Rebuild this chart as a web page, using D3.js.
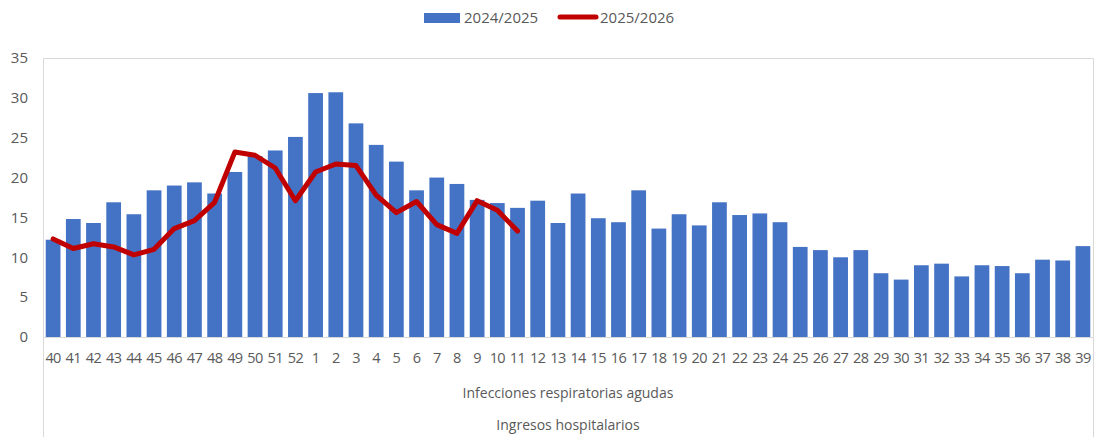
<!DOCTYPE html>
<html>
<head>
<meta charset="utf-8">
<script src="https://cdn.jsdelivr.net/npm/d3@7"></script>
<style>
  body { margin: 0; background: #fff; }
  text { font-family: "Open Sans", "Liberation Sans", sans-serif; fill: #595959; }
</style>
</head>
<body>
<svg width="1097" height="439"></svg>
<script>
// weeks 40..52, 1..39
var weeks = ["40","41","42","43","44","45","46","47","48","49","50","51","52",
  "1","2","3","4","5","6","7","8","9","10","11","12","13","14","15","16","17","18","19","20",
  "21","22","23","24","25","26","27","28","29","30","31","32","33","34","35","36","37","38","39"];

var season2425 = [12.2, 14.8, 14.3, 16.9, 15.4, 18.4, 19.0, 19.4, 18.0, 20.7, 22.7, 23.4, 25.1,
  30.6, 30.7, 26.8, 24.1, 22.0, 18.4, 20.0, 19.2, 17.2, 16.8, 16.2, 17.1, 14.3, 18.0, 14.9, 14.4, 18.4, 13.6, 15.4, 14.0,
  16.9, 15.3, 15.5, 14.4, 11.3, 10.9, 10.0, 10.9, 8.0, 7.2, 9.0, 9.2, 7.6, 9.0, 8.9, 8.0, 9.7, 9.6, 11.4];

var season2526 = [12.3, 11.1, 11.7, 11.3, 10.3, 11.0, 13.6, 14.6, 16.9, 23.2, 22.8, 21.2, 17.1,
  20.7, 21.7, 21.5, 17.8, 15.6, 17.0, 14.1, 13.0, 17.1, 15.9, 13.3];

var yTicks = [0, 5, 10, 15, 20, 25, 30, 35];
var legendLabels = ["2024/2025", "2025/2026"];
var groupLabels = ["Infecciones respiratorias agudas", "Ingresos hospitalarios"];

var svg = d3.select("svg");
var plotL = 43, plotR = 1093, plotT = 58, plotB = 337;

var x = d3.scaleBand()
    .domain(weeks)
    .range([plotL, plotR])
    .paddingInner(0.27)
    .paddingOuter(0.135);

var y = d3.scaleLinear()
    .domain([0, 35])
    .range([plotB, plotT]);

// plot frame (top + sides), sides run down through the category levels
svg.append("path")
    .attr("d", "M" + (plotL + 0.5) + ",437V" + (plotT + 0.5) + "H" + (plotR + 0.5) + "V437")
    .attr("fill", "none")
    .attr("stroke", "#d9d9d9")
    .attr("stroke-width", 1);

// bars
svg.append("g")
  .selectAll("rect")
  .data(season2425)
  .enter().append("rect")
    .attr("x", function(d, i) { return x(weeks[i]); })
    .attr("y", function(d) { return y(d); })
    .attr("width", x.bandwidth())
    .attr("height", function(d) { return y(0) - y(d); })
    .attr("fill", "#4472c4");

// x axis baseline
svg.append("line")
    .attr("x1", plotL).attr("x2", plotR)
    .attr("y1", plotB + 0.5).attr("y2", plotB + 0.5)
    .attr("stroke", "#d9d9d9");

// line series
var line = d3.line()
    .x(function(d, i) { return x(weeks[i]) + x.bandwidth() / 2; })
    .y(function(d) { return y(d); });

svg.append("path")
    .datum(season2526)
    .attr("d", line)
    .attr("fill", "none")
    .attr("stroke", "#c00000")
    .attr("stroke-width", 5)
    .attr("stroke-linejoin", "round")
    .attr("stroke-linecap", "round");

// y axis labels
svg.append("g")
  .selectAll("text")
  .data(yTicks)
  .enter().append("text")
    .attr("x", 28)
    .attr("y", function(d) { return y(d); })
    .attr("dy", "0.35em")
    .attr("text-anchor", "end")
    .style("font-size", "15px")
    .text(function(d) { return d; });

// x tick labels
svg.append("g")
  .selectAll("text")
  .data(weeks)
  .enter().append("text")
    .attr("x", function(d) { return x(d) + x.bandwidth() / 2; })
    .attr("y", 358)
    .attr("dy", "0.35em")
    .attr("text-anchor", "middle")
    .style("font-size", "14.5px")
    .style("letter-spacing", "-0.6px")
    .text(function(d) { return d; });

// category group labels
svg.append("g")
  .selectAll("text")
  .data(groupLabels)
  .enter().append("text")
    .attr("x", (plotL + plotR) / 2)
    .attr("y", function(d, i) { return 393 + i * 32; })
    .attr("dy", "0.35em")
    .attr("text-anchor", "middle")
    .style("font-size", "14px")
    .text(function(d) { return d; });

// legend
var legend = svg.append("g");
legend.append("rect")
    .attr("x", 424).attr("y", 13)
    .attr("width", 36).attr("height", 10)
    .attr("fill", "#4472c4");
legend.append("text")
    .attr("x", 464).attr("y", 18)
    .attr("dy", "0.35em")
    .style("font-size", "15px")
    .text(legendLabels[0]);
legend.append("line")
    .attr("x1", 560).attr("x2", 596)
    .attr("y1", 17).attr("y2", 17)
    .attr("stroke", "#c00000")
    .attr("stroke-width", 5)
    .attr("stroke-linecap", "round");
legend.append("text")
    .attr("x", 600).attr("y", 18)
    .attr("dy", "0.35em")
    .style("font-size", "15px")
    .text(legendLabels[1]);
</script>
</body>
</html>
